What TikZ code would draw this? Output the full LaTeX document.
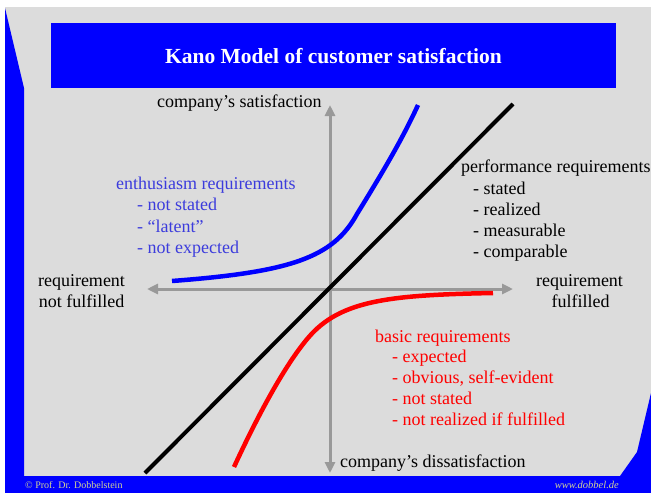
\documentclass[tikz,border=0pt]{standalone}
\usepackage{fontspec}
\setmainfont{Liberation Serif}
\usetikzlibrary{arrows.meta}
\definecolor{bggrey}{RGB}{220,220,220}
\definecolor{axisgrey}{RGB}{153,153,153}
\definecolor{enthblue}{RGB}{60,60,220}
\definecolor{footcol}{RGB}{210,210,150}
\begin{document}
\begin{tikzpicture}[x=1pt,y=-1pt,
  txt/.style={inner sep=0pt, anchor=base west, font=\fontsize{18}{21}\selectfont},
  ctxt/.style={inner sep=0pt, anchor=base, font=\fontsize{18}{21}\selectfont},
  axisline/.style={draw=axisgrey, line width=3pt, {Triangle[length=11pt,width=10pt]}-{Triangle[length=11pt,width=10pt]}},
  curveline/.style={line width=4.5pt},
  foot/.style={inner sep=0pt, text=footcol, font=\fontsize{10}{12}\selectfont}]
\useasboundingbox (0,0) rectangle (651,493);
% background
\fill[white] (0,0) rectangle (651,493);
\fill[bggrey] (5,7) rectangle (651,476);
\fill[blue] (5,8) -- (24,88) -- (24,476) -- (5,476) -- cycle;
\fill[blue] (5,476) rectangle (651,493);
\fill[blue] (651,393) -- (637,452) -- (620,476) -- (651,476) -- cycle;
% title
\fill[blue] (51,23) rectangle (616,88);
\node[inner sep=0pt, anchor=base, text=white, font=\fontsize{21.5}{24}\selectfont\bfseries] (title) at (333.5,63) {Kano Model of customer satisfaction};
% axes
\coordinate (top) at (330,105);
\coordinate (bottom) at (330,473);
\coordinate (left) at (147,289);
\coordinate (right) at (513,289);
\draw[axisline] (left) -- (right);
\draw[axisline] (bottom) -- (top);
% performance line
\coordinate (p1) at (145,473);
\coordinate (p2) at (513,104);
\draw[line width=4pt, black] (p1) -- (p2);
% enthusiasm curve
\coordinate (e1) at (172,281);
\coordinate (e2) at (357,214);
\coordinate (e3) at (418,105);
\draw[curveline, blue] (e1) .. controls (290,272) and (333,258) .. (e2) .. controls (381,175) and (402,140) .. (e3);
% basic curve
\coordinate (b1) at (493,293);
\coordinate (b2) at (308,338);
\coordinate (b3) at (234,467);
\draw[curveline, red] (b1) .. controls (390,295) and (340,300) .. (b2) .. controls (285,365) and (258,415) .. (b3);
% axis labels
\node[txt] (sat) at (157,107) {company’s satisfaction};
\node[txt] (dissat) at (340,467) {company’s dissatisfaction};
\node[ctxt] (lreq) at (81.5,286) {requirement};
\node[ctxt] (lnf) at (81.5,307) {not fulfilled};
\node[ctxt] (rreq) at (579.5,286) {requirement};
\node[ctxt] (rf) at (580.5,307) {fulfilled};
% enthusiasm text
\begin{scope}[every node/.append style={text=enthblue}]
\node[txt] (en0) at (116,189) {enthusiasm requirements};
\node[txt] (en1) at (137,210) {- not stated};
\node[txt] (en2) at (137,232) {- “latent”};
\node[txt] (en3) at (137,253) {- not expected};
\end{scope}
% performance text
\node[txt] (pe0) at (461,172) {performance requirements};
\node[txt] (pe1) at (473,194) {- stated};
\node[txt] (pe2) at (473,215) {- realized};
\node[txt] (pe3) at (473,236) {- measurable};
\node[txt] (pe4) at (473,257) {- comparable};
% basic text
\begin{scope}[every node/.append style={text=red}]
\node[txt] (ba0) at (375,342) {basic requirements};
\node[txt] (ba1) at (392,362) {- expected};
\node[txt] (ba2) at (392,383) {- obvious, self-evident};
\node[txt] (ba3) at (392,404) {- not stated};
\node[txt] (ba4) at (392,425) {- not realized if fulfilled};
\end{scope}
% footer
\node[foot, anchor=base west] (copy) at (25,488) {© Prof. Dr. Dobbelstein};
\node[foot, anchor=base east, font=\fontsize{10.5}{12}\selectfont\itshape] (web) at (619,488) {www.dobbel.de};
\end{tikzpicture}
\end{document}
